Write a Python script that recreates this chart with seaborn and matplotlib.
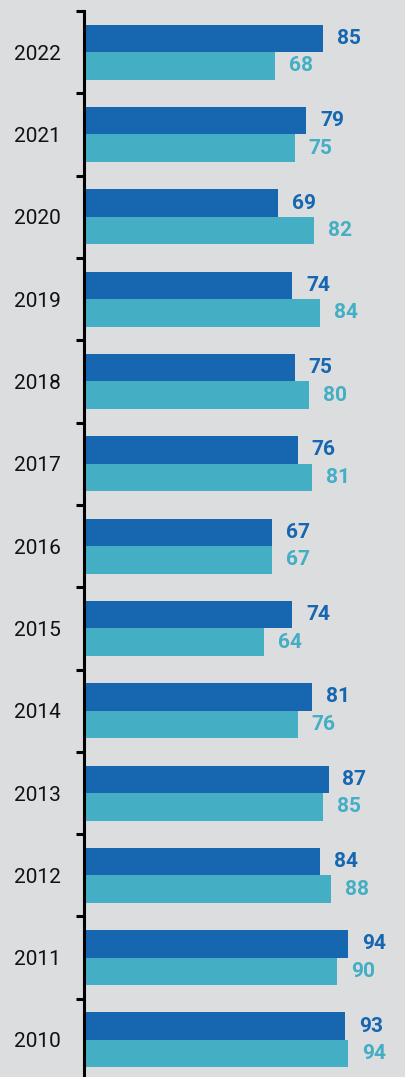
import numpy as np
import pandas as pd
import seaborn as sns
import matplotlib.pyplot as plt

YEARS = ["2022", "2021", "2020", "2019", "2018", "2017", "2016",
         "2015", "2014", "2013", "2012", "2011", "2010"]
SERIES_A = [85, 79, 69, 74, 75, 76, 67, 74, 81, 87, 84, 94, 93]
SERIES_B = [68, 75, 82, 84, 80, 81, 67, 64, 76, 85, 88, 90, 94]
SERIES_NAMES = ["A", "B"]
COLORS = ["#1666b0", "#43aec4"]
BG = "#dcdddf"

df = pd.DataFrame({
    "year": YEARS * 2,
    "value": SERIES_A + SERIES_B,
    "series": [SERIES_NAMES[0]] * len(YEARS) + [SERIES_NAMES[1]] * len(YEARS),
})

sns.set_style("white")
plt.rcParams['font.family'] = ['Roboto', 'DejaVu Sans']

fig = plt.figure(figsize=(4.05, 10.77), dpi=100, facecolor=BG)
ax = fig.add_axes([84 / 405, 0, 1 - 84 / 405, 1 - 11 / 1077])
ax.set_facecolor(BG)

sns.barplot(data=df, x="value", y="year", hue="series", order=YEARS,
            hue_order=SERIES_NAMES, palette=COLORS, orient="h", saturation=1,
            width=0.668, linewidth=0, legend=False, ax=ax)

for cont, col in zip(ax.containers, COLORS):
    labels = ax.bar_label(cont, padding=10, color=col, fontweight="bold",
                          fontsize=15)

ax.set_xlim(0, 114.2)
ax.set_ylim(12.45, -0.5)
ax.set_xlabel("")
ax.set_ylabel("")
ax.set_xticks([])

# year labels at group centres, ticks at group boundaries
ax.set_yticks(np.arange(len(YEARS)))
ax.set_yticklabels(YEARS, fontsize=15)
ax.tick_params(axis="y", which="major", left=False, length=0, pad=17,
               labelcolor="#111111")
ax.set_yticks(np.arange(len(YEARS)) - 0.5, minor=True)
ax.tick_params(axis="y", which="minor", left=True, length=6, width=2.2,
               color="black", direction="out")

for s in ["top", "right", "bottom"]:
    ax.spines[s].set_visible(False)
ax.spines["left"].set_linewidth(2.2)
ax.spines["left"].set_color("black")

fig.savefig("out.png", dpi=100, facecolor=BG)
